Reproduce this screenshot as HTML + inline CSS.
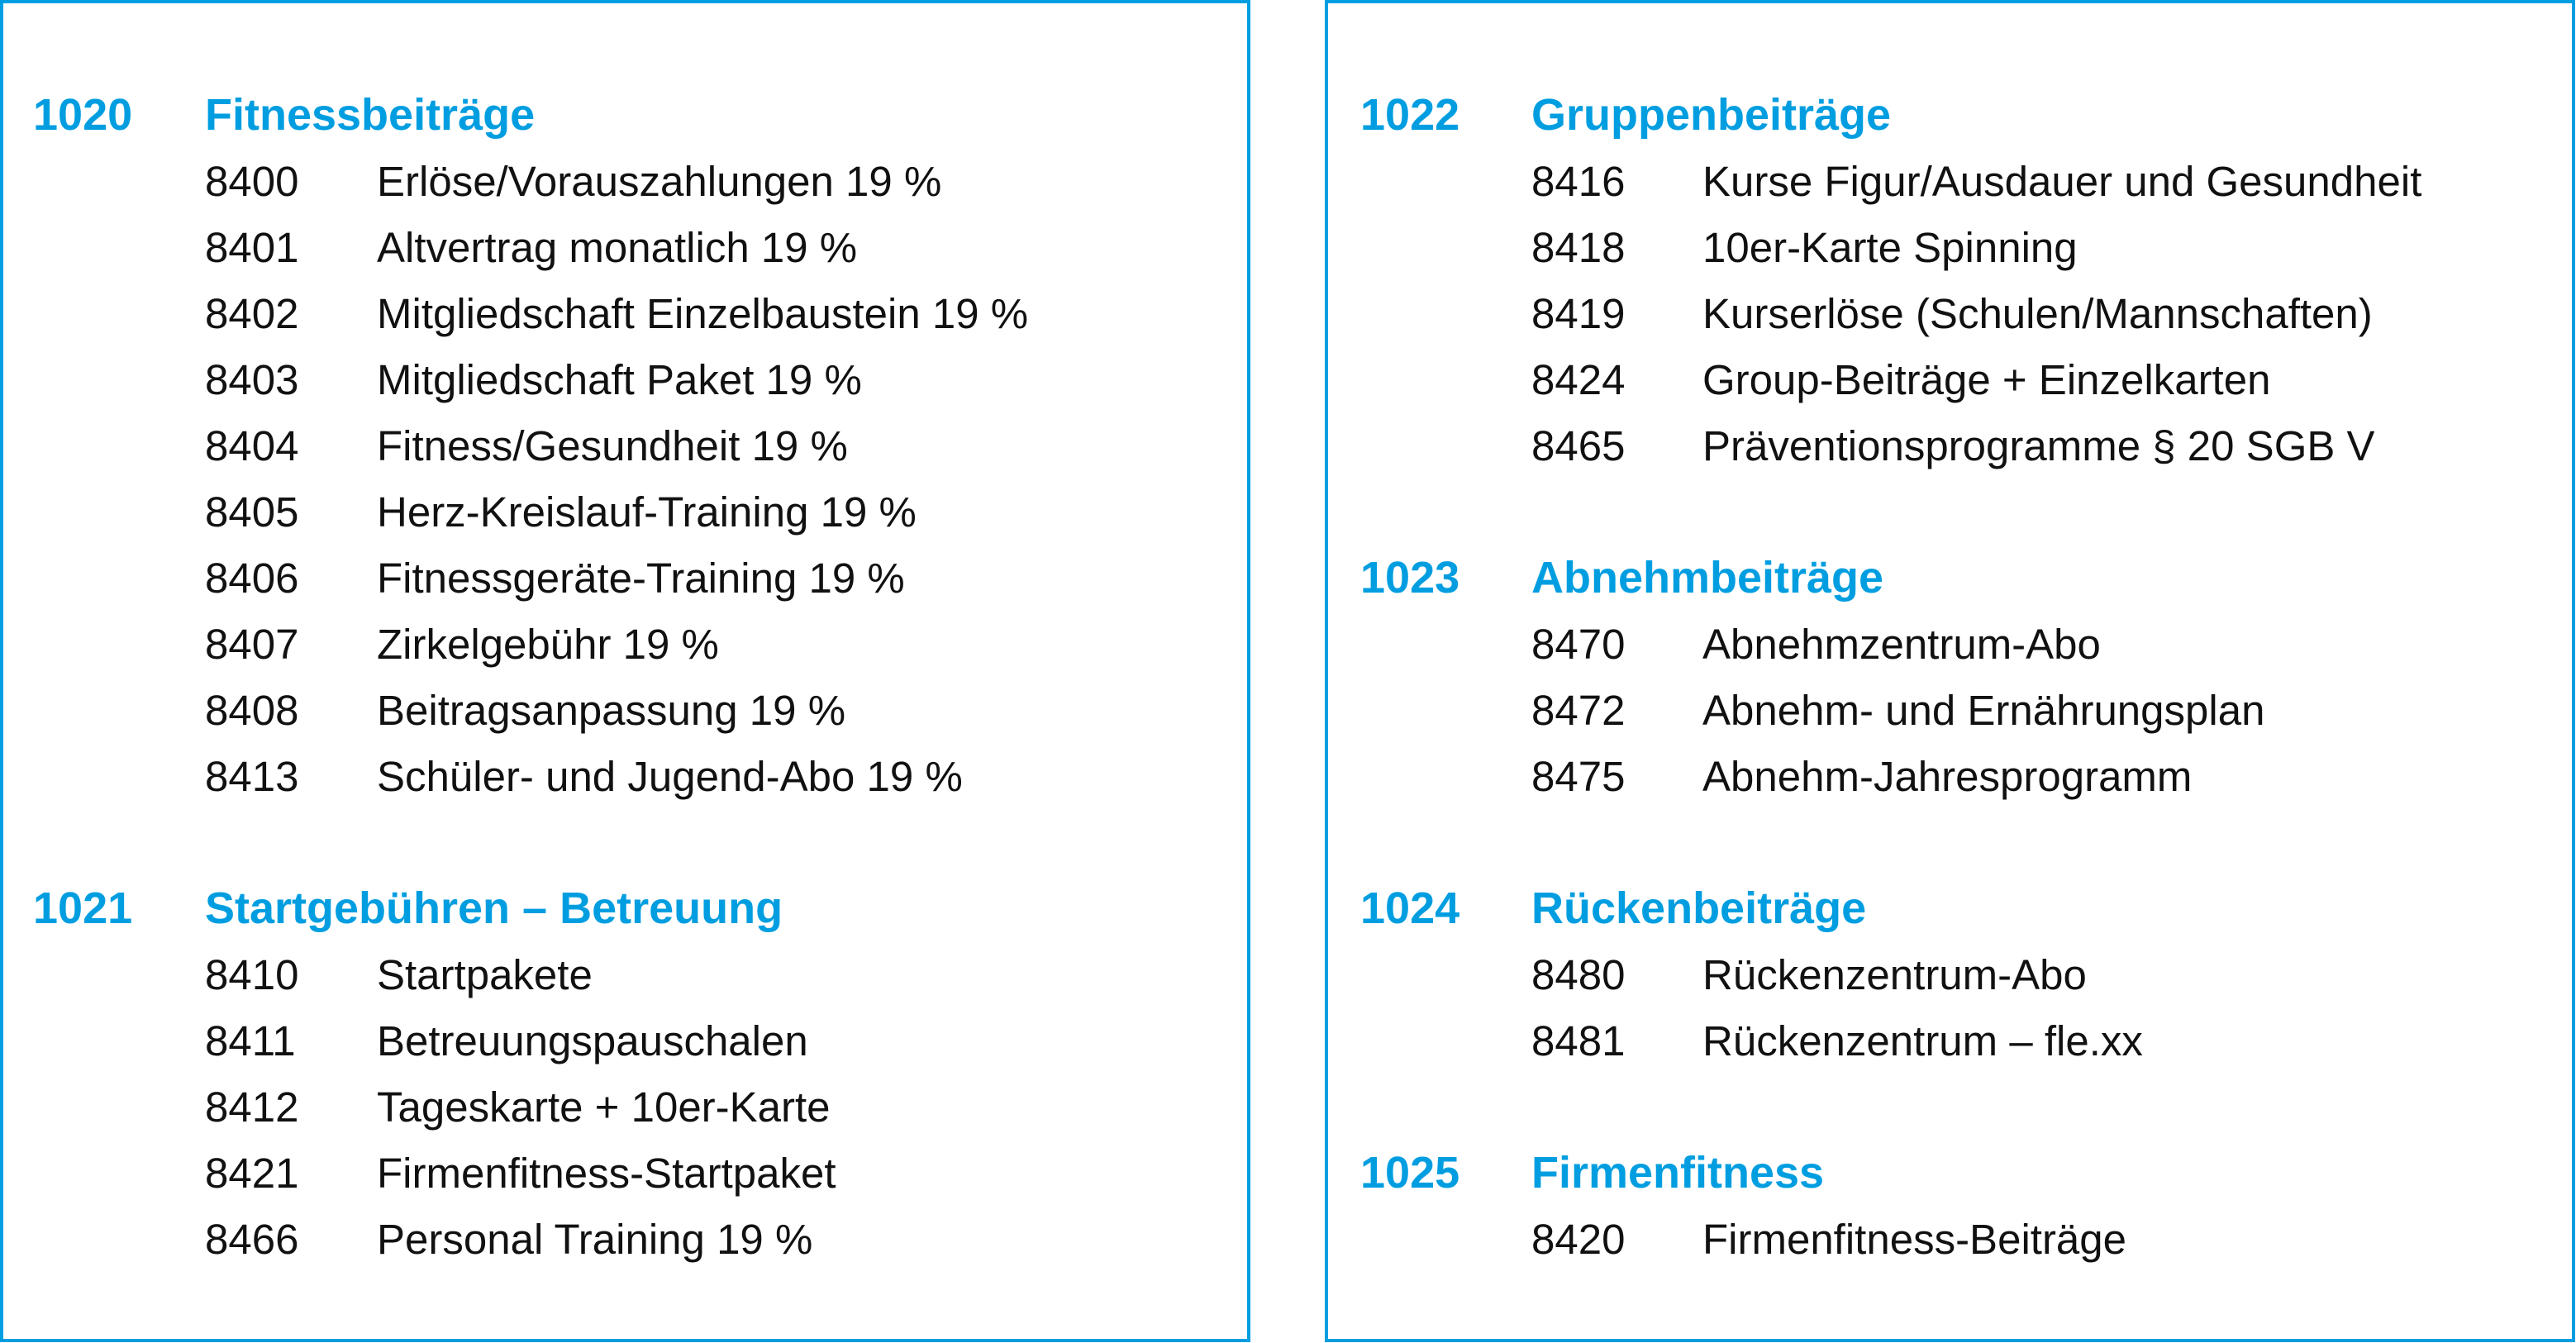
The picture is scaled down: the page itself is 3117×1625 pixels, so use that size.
<!DOCTYPE html>
<html><head><meta charset="utf-8"><style>
html,body{margin:0;padding:0;background:#fff;width:3117px;height:1625px;overflow:hidden}
svg{display:block}
text{font-family:"Liberation Sans",sans-serif;font-size:51px}
.h{fill:#009ee0;font-weight:bold;font-size:54px}
.n{fill:#111}
</style></head><body>
<svg width="3117" height="1625" viewBox="0 0 3117 1625" xmlns="http://www.w3.org/2000/svg">
<rect x="2" y="2" width="1509" height="1620" fill="none" stroke="#009ee0" stroke-width="4"/>
<rect x="1605" y="2" width="1509" height="1620" fill="none" stroke="#009ee0" stroke-width="4"/>

<text class="h" x="40" y="157">1020</text><text class="h" x="248" y="157">Fitnessbeiträge</text>
<text class="n" x="248" y="237">8400</text><text class="n" x="456" y="237">Erlöse/Vorauszahlungen 19 %</text>
<text class="n" x="248" y="317">8401</text><text class="n" x="456" y="317">Altvertrag monatlich 19 %</text>
<text class="n" x="248" y="397">8402</text><text class="n" x="456" y="397">Mitgliedschaft Einzelbaustein 19 %</text>
<text class="n" x="248" y="477">8403</text><text class="n" x="456" y="477">Mitgliedschaft Paket 19 %</text>
<text class="n" x="248" y="557">8404</text><text class="n" x="456" y="557">Fitness/Gesundheit 19 %</text>
<text class="n" x="248" y="637">8405</text><text class="n" x="456" y="637">Herz-Kreislauf-Training 19 %</text>
<text class="n" x="248" y="717">8406</text><text class="n" x="456" y="717">Fitnessgeräte-Training 19 %</text>
<text class="n" x="248" y="797">8407</text><text class="n" x="456" y="797">Zirkelgebühr 19 %</text>
<text class="n" x="248" y="877">8408</text><text class="n" x="456" y="877">Beitragsanpassung 19 %</text>
<text class="n" x="248" y="957">8413</text><text class="n" x="456" y="957">Schüler- und Jugend-Abo 19 %</text>

<text class="h" x="40" y="1117">1021</text><text class="h" x="248" y="1117">Startgebühren – Betreuung</text>
<text class="n" x="248" y="1197">8410</text><text class="n" x="456" y="1197">Startpakete</text>
<text class="n" x="248" y="1277">8411</text><text class="n" x="456" y="1277">Betreuungspauschalen</text>
<text class="n" x="248" y="1357">8412</text><text class="n" x="456" y="1357">Tageskarte + 10er-Karte</text>
<text class="n" x="248" y="1437">8421</text><text class="n" x="456" y="1437">Firmenfitness-Startpaket</text>
<text class="n" x="248" y="1517">8466</text><text class="n" x="456" y="1517">Personal Training 19 %</text>

<text class="h" x="1646" y="157">1022</text><text class="h" x="1853" y="157">Gruppenbeiträge</text>
<text class="n" x="1853" y="237">8416</text><text class="n" x="2060" y="237">Kurse Figur/Ausdauer und Gesundheit</text>
<text class="n" x="1853" y="317">8418</text><text class="n" x="2060" y="317">10er-Karte Spinning</text>
<text class="n" x="1853" y="397">8419</text><text class="n" x="2060" y="397">Kurserlöse (Schulen/Mannschaften)</text>
<text class="n" x="1853" y="477">8424</text><text class="n" x="2060" y="477">Group-Beiträge + Einzelkarten</text>
<text class="n" x="1853" y="557">8465</text><text class="n" x="2060" y="557">Präventionsprogramme § 20 SGB V</text>

<text class="h" x="1646" y="717">1023</text><text class="h" x="1853" y="717">Abnehmbeiträge</text>
<text class="n" x="1853" y="797">8470</text><text class="n" x="2060" y="797">Abnehmzentrum-Abo</text>
<text class="n" x="1853" y="877">8472</text><text class="n" x="2060" y="877">Abnehm- und Ernährungsplan</text>
<text class="n" x="1853" y="957">8475</text><text class="n" x="2060" y="957">Abnehm-Jahresprogramm</text>

<text class="h" x="1646" y="1117">1024</text><text class="h" x="1853" y="1117">Rückenbeiträge</text>
<text class="n" x="1853" y="1197">8480</text><text class="n" x="2060" y="1197">Rückenzentrum-Abo</text>
<text class="n" x="1853" y="1277">8481</text><text class="n" x="2060" y="1277">Rückenzentrum – fle.xx</text>

<text class="h" x="1646" y="1437">1025</text><text class="h" x="1853" y="1437">Firmenfitness</text>
<text class="n" x="1853" y="1517">8420</text><text class="n" x="2060" y="1517">Firmenfitness-Beiträge</text>
</svg>
</body></html>
